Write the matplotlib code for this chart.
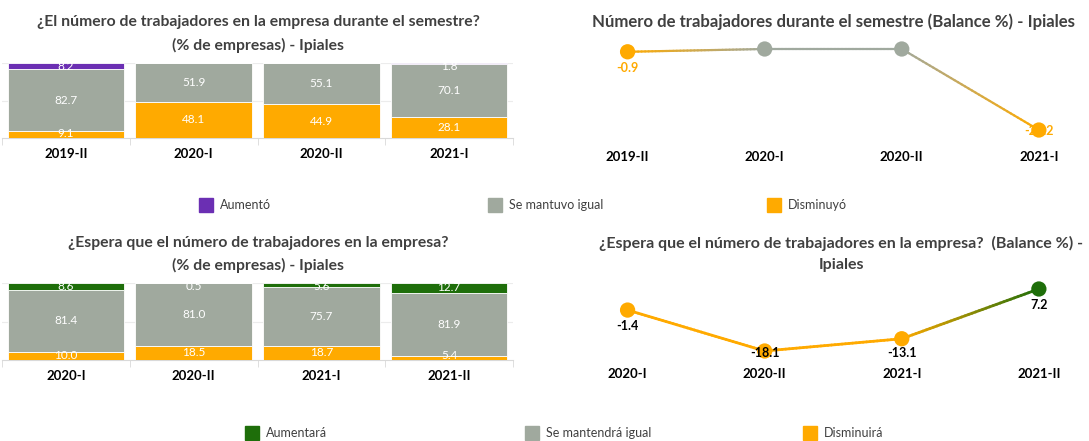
import numpy as np
import matplotlib
matplotlib.use("Agg")
import matplotlib.pyplot as plt
from matplotlib.collections import LineCollection
from matplotlib.patches import Rectangle
from matplotlib.colors import to_rgb

plt.rcParams['font.family'] = ['Lato', 'DejaVu Sans']

# ---- datos ----
sem_top = ['2019-II', '2020-I', '2020-II', '2021-I']
aumento = [8.2, 0.0, 0.0, 1.8]
igual = [82.7, 51.9, 55.1, 70.1]
disminuyo = [9.1, 48.1, 44.9, 28.1]
balance_top = [-0.9, 0.0, 0.0, -26.2]

sem_bot = ['2020-I', '2020-II', '2021-I', '2021-II']
aumentara = [8.6, 0.5, 5.6, 12.7]
mantendra = [81.4, 81.0, 75.7, 81.9]
disminuira = [10.0, 18.5, 18.7, 5.4]
balance_bot = [-1.4, -18.1, -13.1, 7.2]

PURPLE = '#6B2FB3'
GRAY = '#A0A99E'
ORANGE = '#FFAA00'
GREEN = '#1E6E0A'
TXT = '#404040'

W, H = 1089, 441
fig = plt.figure(figsize=(W / 100, H / 100), dpi=100)


def ax_px(x0, y0, x1, y1):
    return fig.add_axes([x0 / W, 1 - y1 / H, (x1 - x0) / W, (y1 - y0) / H])


def stacked(ax, cats, bottom_vals, mid_vals, top_vals, top_color):
    x = np.arange(len(cats))
    b = np.array(bottom_vals)
    m = np.array(mid_vals)
    t = np.array(top_vals)
    for vals, base, col in [(b, 0, ORANGE), (m, b, GRAY), (t, b + m, top_color)]:
        ax.bar(x, vals, bottom=base, width=0.91, color=col, edgecolor='white', linewidth=0.6, zorder=3)
        for xi, v, bs in zip(x, vals, np.zeros(len(x)) + base):
            if v <= 0:
                continue
            yc = min(max(bs + v / 2, 6), 95.5)
            ax.text(xi, yc, f'{v:.1f}', ha='center', va='center', color='white', fontsize=8.5, zorder=4)
    ax.set_xlim(-0.5, len(cats) - 0.5)
    ax.set_ylim(0, 100)
    for g in (50, 100):
        ax.axhline(g, color='#ececec', lw=0.8, zorder=0)
    for s in ['top', 'right', 'left']:
        ax.spines[s].set_visible(False)
    ax.spines['bottom'].set_color('#d9d9d9')
    ax.set_yticks([])
    ax.set_xticks(x)
    ax.set_xticklabels(cats, fontweight='bold', fontsize=9.5, color='black')
    ax.tick_params(axis='x', length=0, pad=7)
    ax.set_xticks(np.arange(len(cats) + 1) - 0.5, minor=True)
    ax.tick_params(axis='x', which='minor', length=5, color='#d9d9d9')


def grad_line(ax, xs, ys, cols, lw):
    segs, colors = [], []
    t = np.linspace(0, 1, 40)
    for i in range(len(xs) - 1):
        c0, c1 = np.array(to_rgb(cols[i])), np.array(to_rgb(cols[i + 1]))
        px = xs[i] + (xs[i + 1] - xs[i]) * t
        py = ys[i] + (ys[i + 1] - ys[i]) * t
        for k in range(len(t) - 1):
            segs.append([(px[k], py[k]), (px[k + 1], py[k + 1])])
            f = (k + 0.5) / (len(t) - 1)
            colors.append(c0 * (1 - f) + c1 * f)
    ax.add_collection(LineCollection(segs, colors=colors, linewidths=lw, capstyle='round', zorder=2))


def balance(ax, cats, vals, ylim, pos_color, lab_color, lw, h_px):
    x = np.arange(len(cats))
    cols = [ORANGE if v < 0 else (pos_color if v > 0 else GRAY) for v in vals]
    grad_line(ax, x, vals, cols, lw)
    ax.scatter(x, vals, s=11 ** 2, c=cols, zorder=3, linewidths=0)
    ax.set_ylim(*ylim)
    ppu = h_px / (ylim[1] - ylim[0])
    for xi, v in zip(x, vals):
        if v == 0:
            continue
        yl = max(v - 16 / ppu, ylim[0] + 9 / ppu)
        c = ORANGE if lab_color is None else lab_color
        ax.text(xi, yl, f'{v:.1f}', ha='center', va='center', fontsize=9,
                fontweight='bold', color=c, zorder=5)
    ax.set_xlim(-0.42, 3.3)
    for s in ax.spines.values():
        s.set_visible(False)
    ax.set_yticks([])
    ax.set_xticks(x)
    ax.set_xticklabels(cats, fontweight='bold', fontsize=9.5, color='black')
    ax.tick_params(axis='x', length=0)


def title(x, y, s, size):
    fig.text(x / W, 1 - y / H, s, ha='center', va='center', fontsize=size, fontweight='bold', color=TXT)


# ---- panel superior izquierdo ----
ax1 = ax_px(2, 63, 513, 138)
stacked(ax1, sem_top, disminuyo, igual, aumento, PURPLE)
title(258, 22, '¿El número de trabajadores en la empresa durante el semestre?', 11.3)
title(258, 45, '(% de empresas) - Ipiales', 11.3)

# ---- panel superior derecho ----
ax2 = ax_px(570, 40, 1080, 140)
balance(ax2, sem_top, balance_top, (-29.43, 2.91), GRAY, None, 1.6, 100)
ax2.tick_params(axis='x', pad=8)
title(833, 22, 'Número de trabajadores durante el semestre (Balance %) - Ipiales', 12.1)

# ---- panel inferior izquierdo ----
ax3 = ax_px(2, 283, 513, 360)
stacked(ax3, sem_bot, disminuira, mantendra, aumentara, GREEN)
title(258, 243, '¿Espera que el número de trabajadores en la empresa?', 11.3)
title(258, 265, '(% de empresas) - Ipiales', 11.3)

# ---- panel inferior derecho ----
ax4 = ax_px(570, 280, 1080, 362)
balance(ax4, sem_bot, balance_bot, (-22.59, 10.87), GREEN, 'black', 2.0, 82)
ax4.tick_params(axis='x', pad=4)
title(841, 243, '¿Espera que el número de trabajadores en la empresa?  (Balance %) -', 11.5)
title(842, 265, 'Ipiales', 11.5)

# ---- leyendas ----
def legend_item(x, y, color, label):
    fig.add_artist(Rectangle((x / W, 1 - (y + 7) / H), 14 / W, 14 / H, color=color,
                             transform=fig.transFigure))
    fig.text((x + 21) / W, 1 - y / H, label, ha='left', va='center', fontsize=9, color=TXT)

for x, c, lab in [(199, PURPLE, 'Aumentó'), (488, GRAY, 'Se mantuvo igual'), (767, ORANGE, 'Disminuyó')]:
    legend_item(x, 205, c, lab)
for x, c, lab in [(245, GREEN, 'Aumentará'), (525, GRAY, 'Se mantendrá igual'), (803, ORANGE, 'Disminuirá')]:
    legend_item(x, 433, c, lab)

fig.savefig('out.png', dpi=100)
